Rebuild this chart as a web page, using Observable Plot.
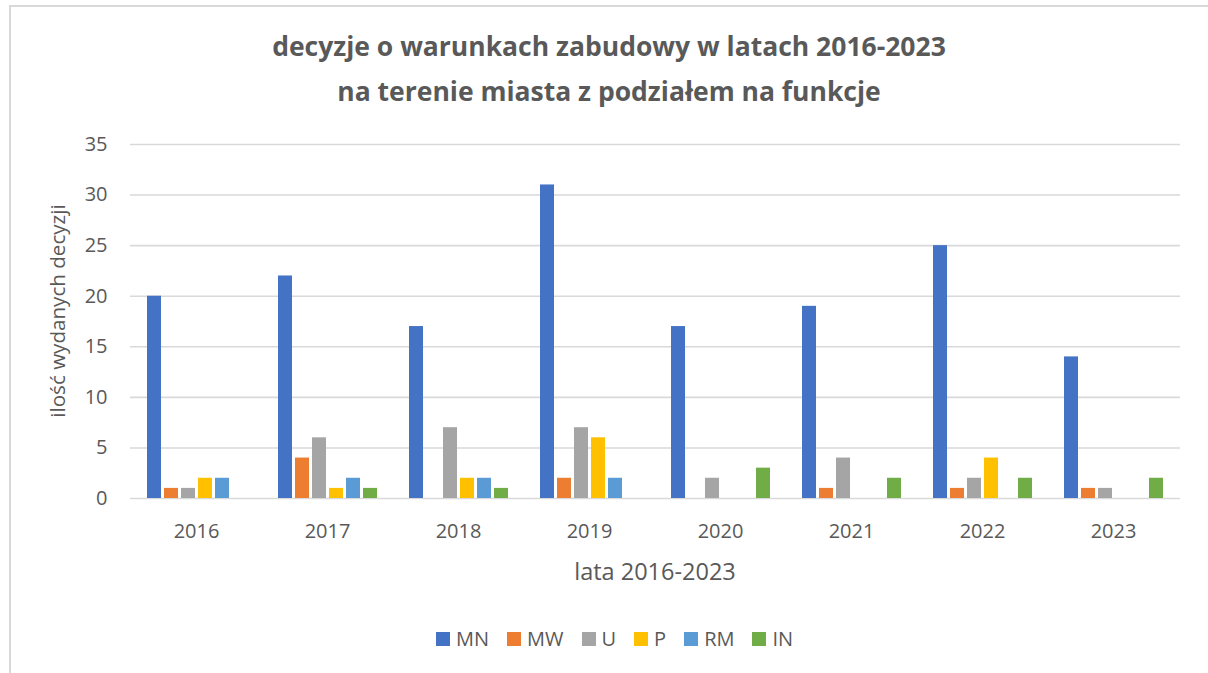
<!DOCTYPE html>
<html>
<head>
<meta charset="utf-8">
<script src="https://cdn.jsdelivr.net/npm/d3@7"></script>
<script src="https://cdn.jsdelivr.net/npm/@observablehq/plot@0.6"></script>
<style>
  html, body { margin: 0; padding: 0; background: #fff; }
  body { width: 1208px; height: 673px; position: relative; overflow: hidden; font-family: "Open Sans", sans-serif; color: #595959; }
  #frameTop { position: absolute; left: 9px; top: 5px; width: 1199px; height: 2px; background: #d9d9d9; }
  #frameLeft { position: absolute; left: 9px; top: 5px; width: 2px; height: 668px; background: #d9d9d9; }
  #bg, #chart { position: absolute; left: 0; top: 0; }
  .title { position: absolute; left: 209px; width: 800px; text-align: center; font-weight: 700; font-size: 26.5px; white-space: nowrap; line-height: 1; }
  #ylab { position: absolute; left: 57px; top: 311px; transform: translate(-50%, -50%) rotate(-90deg); font-size: 20.6px; white-space: nowrap; }
  #xlab { position: absolute; left: 655px; top: 571px; transform: translate(-50%, -50%); font-size: 23.5px; white-space: nowrap; }
  #legend { position: absolute; left: 436px; top: 625px; display: flex; align-items: center; font-size: 20px; }
  .item { display: flex; align-items: center; margin-right: 18px; }
  .sw { width: 14px; height: 14px; margin-right: 6px; }
</style>
</head>
<body>
<div id="frameTop"></div>
<div id="frameLeft"></div>
<div id="bg"></div>
<div id="chart"></div>
<div class="title" id="t1" style="top:33px">decyzje o warunkach zabudowy w latach 2016-2023</div>
<div class="title" id="t2" style="top:78px">na terenie miasta z podziałem na funkcje</div>
<div id="ylab">ilość wydanych decyzji</div>
<div id="xlab">lata 2016-2023</div>
<div id="legend"></div>
<script>
const years = ["2016", "2017", "2018", "2019", "2020", "2021", "2022", "2023"];
const series = ["MN", "MW", "U", "P", "RM", "IN"];
const MN = [20, 22, 17, 31, 17, 19, 25, 14];
const MW = [1, 4, 0, 2, 0, 1, 1, 1];
const U  = [1, 6, 7, 7, 2, 4, 2, 1];
const P  = [2, 1, 2, 6, 0, 0, 4, 0];
const RM = [2, 2, 2, 2, 0, 0, 0, 0];
const IN = [0, 1, 1, 0, 3, 2, 2, 2];
const yTicks = [0, 5, 10, 15, 20, 25, 30, 35];
const colors = ["#4472C4", "#ED7D31", "#A5A5A5", "#FFC000", "#5B9BD5", "#70AD47"];

const values = {MN, MW, U, P, RM, IN};
const rows = [];
years.forEach((year, i) => {
  series.forEach(s => rows.push({year, series: s, value: values[s][i]}));
});

const common = {
  width: 1208,
  height: 600,
  marginLeft: 130,
  marginRight: 28,
  marginTop: 144,
  marginBottom: 102,
  style: {fontFamily: "Open Sans, sans-serif", fontSize: "20px", color: "#595959", background: "transparent"}
};

// background: y axis + gridlines across the whole plot width
const bg = Plot.plot({
  ...common,
  x: {axis: null},
  y: {domain: [0, 35], ticks: yTicks, tickSize: 0, tickPadding: 23, label: null},
  marks: [
    Plot.ruleY(yTicks, {stroke: "#d9d9d9", strokeWidth: 1.6})
  ]
});
document.getElementById("bg").appendChild(bg);

// foreground: clustered bars by year
const chart = Plot.plot({
  ...common,
  fx: {domain: years, paddingInner: 0.173, paddingOuter: 0.0867, label: null, tickSize: 0, tickPadding: 25, axis: "bottom"},
  x: {domain: series, padding: 0.2, axis: null},
  y: {domain: [0, 35], axis: null},
  color: {domain: series, range: colors},
  marks: [
    Plot.barY(rows.filter(d => d.value > 0), {fx: "year", x: "series", y: "value", fill: "series"})
  ]
});
document.getElementById("chart").appendChild(chart);

const legend = document.getElementById("legend");
series.forEach((s, i) => {
  const it = document.createElement("div");
  it.className = "item";
  it.innerHTML = `<div class="sw" style="background:${colors[i]}"></div><span>${s}</span>`;
  legend.appendChild(it);
});
</script>
</body>
</html>
